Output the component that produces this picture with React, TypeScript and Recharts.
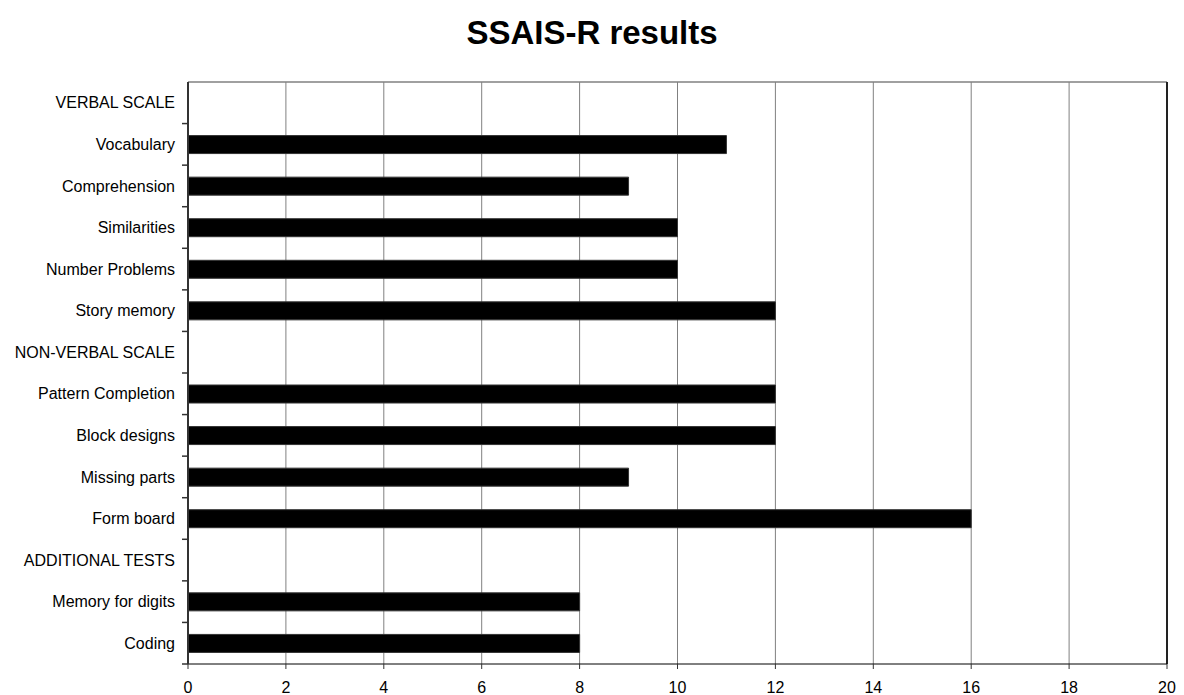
import { BarChart, Bar, XAxis, YAxis, CartesianGrid, ReferenceLine } from "recharts";

/* ── SSAIS-R subtest scores ── */

const categories = [
  "VERBAL SCALE",
  "Vocabulary",
  "Comprehension",
  "Similarities",
  "Number Problems",
  "Story memory",
  "NON-VERBAL SCALE",
  "Pattern Completion",
  "Block designs",
  "Missing parts",
  "Form board",
  "ADDITIONAL TESTS",
  "Memory for digits",
  "Coding",
];

const scores: (number | null)[] = [null, 11, 9, 10, 10, 12, null, 12, 12, 9, 16, null, 8, 8];

const xTicks = [0, 2, 4, 6, 8, 10, 12, 14, 16, 18, 20];

const W = 1184;
const H = 695;
const TOP = 82;
const AXIS_W = 188;
const X_AXIS_H = 31;
const FONT = '"Liberation Sans", Arial, sans-serif';

const data = categories.map((name, i) => ({ name, score: scores[i] }));
const band = (H - TOP - X_AXIS_H) / categories.length;

function CategoryTick(props: any) {
  const { y, payload } = props;
  const edge = y + band / 2;
  return (
    <g>
      <text
        x={AXIS_W - 13}
        y={y}
        dy="0.355em"
        textAnchor="end"
        fontSize={16}
        fontFamily={FONT}
        fill="#000"
      >
        {payload.value}
      </text>
      <line x1={AXIS_W - 6} x2={AXIS_W} y1={edge} y2={edge} stroke="#333" strokeWidth={1.5} />
    </g>
  );
}

export default function App() {
  return (
    <div style={{ position: "absolute", left: 0, top: 0, width: W, height: H, background: "#fff" }}>
      <div
        style={{
          position: "absolute",
          left: 0,
          top: 16,
          width: W,
          textAlign: "center",
          fontFamily: FONT,
          fontWeight: "bold",
          fontSize: 33,
          lineHeight: "33px",
          color: "#000",
        }}
      >
        SSAIS-R results
      </div>
      <BarChart
        width={W}
        height={H}
        data={data}
        layout="vertical"
        margin={{ top: TOP, right: 17, left: 0, bottom: 0 }}
        barSize={18}
      >
        <CartesianGrid horizontal={false} stroke="#808080" strokeWidth={1} />
        {/* top frame line of the plot area */}
        <CartesianGrid
          vertical={false}
          horizontalCoordinatesGenerator={({ offset }: any) => [offset.top]}
          stroke="#808080"
          strokeWidth={1.5}
        />
        <XAxis
          type="number"
          domain={[0, 20]}
          ticks={xTicks}
          interval={0}
          height={X_AXIS_H}
          axisLine={{ stroke: "#000", strokeWidth: 1 }}
          tickLine={{ stroke: "#333" }}
          tickSize={5}
          tickMargin={13}
          tick={{ fontSize: 16, fontFamily: FONT, fill: "#000" }}
        />
        <YAxis
          type="category"
          dataKey="name"
          width={AXIS_W}
          interval={0}
          tickLine={false}
          axisLine={{ stroke: "#333", strokeWidth: 2 }}
          tick={<CategoryTick />}
        />
        <Bar dataKey="score" fill="#000" stroke="#333" strokeWidth={1} isAnimationActive={false} />
        <ReferenceLine x={20} stroke="#222" strokeWidth={2} ifOverflow="visible" />
      </BarChart>
    </div>
  );
}
